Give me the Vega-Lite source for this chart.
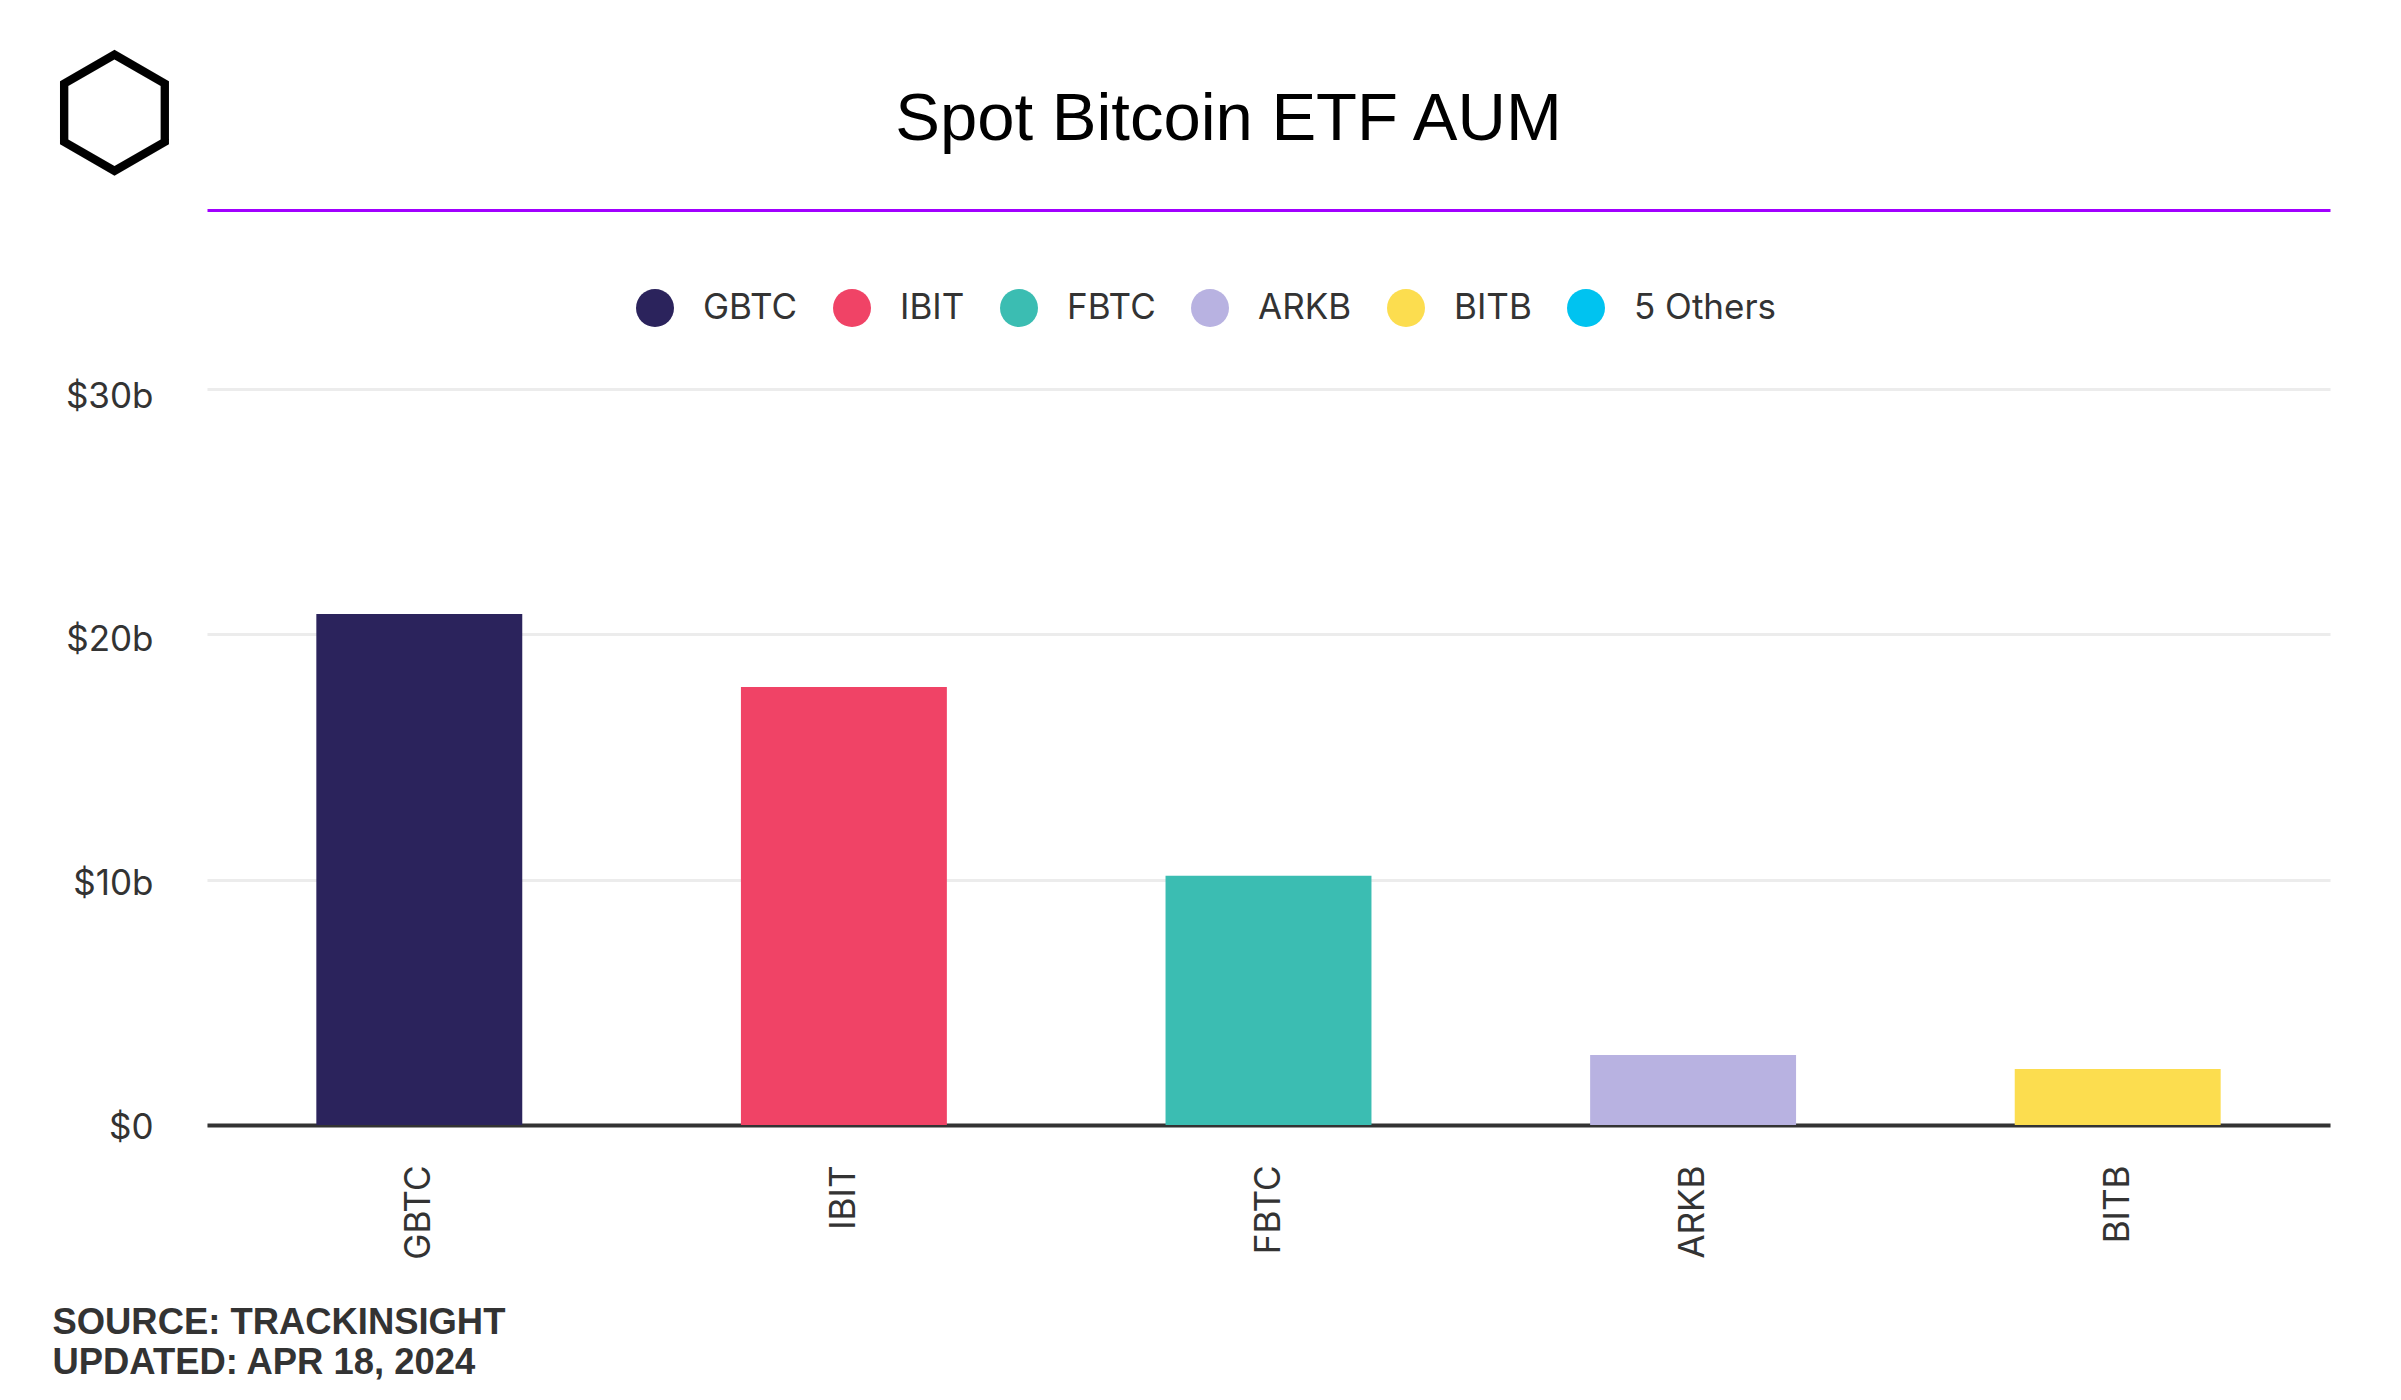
{
  "$schema": "https://vega.github.io/schema/vega-lite/v6.json",
  "width": 2123,
  "height": 736,
  "autosize": {"type": "none"},
  "padding": {"left": 207, "top": 389, "right": 71, "bottom": 275},
  "background": "white",
  "title": {
    "text": "Spot Bitcoin ETF AUM",
    "font": "Liberation Sans",
    "fontSize": 67,
    "fontWeight": "normal",
    "color": "#000000",
    "anchor": "middle",
    "frame": "group",
    "dx": -40,
    "dy": 167,
    "offset": 54
  },
  "data": {
    "values": [
      {"ticker": "GBTC", "aum": 20.83},
      {"ticker": "IBIT", "aum": 17.85},
      {"ticker": "FBTC", "aum": 10.16},
      {"ticker": "ARKB", "aum": 2.85},
      {"ticker": "BITB", "aum": 2.28}
    ]
  },
  "layer": [
    {
      "mark": {"type": "bar", "opacity": 0},
      "encoding": {
        "x": {
          "field": "ticker",
          "type": "nominal",
          "sort": null,
          "scale": {"paddingInner": 0.515, "paddingOuter": 0.2575},
          "axis": {
            "orient": "top",
            "offset": 179,
            "labels": false,
            "ticks": false,
            "grid": false,
            "title": null,
            "domainColor": "#a100ff",
            "domainWidth": 3
          }
        },
        "y": {"field": "aum", "type": "quantitative"}
      }
    },
    {
      "mark": {"type": "bar"},
      "encoding": {
        "x": {
          "field": "ticker",
          "type": "nominal",
          "sort": null,
          "axis": {
            "orient": "bottom",
            "labelAngle": -90,
            "labelAlign": "right",
            "labelBaseline": "middle",
            "labelPadding": 40,
            "labelFont": "Inter",
            "labelFontSize": 35,
            "labelColor": "#333333",
            "ticks": false,
            "domainColor": "#333333",
            "domainWidth": 4,
            "title": ["SOURCE: TRACKINSIGHT", "UPDATED: APR 18, 2024"],
            "titleFont": "Liberation Sans",
            "titleFontWeight": "bold",
            "titleFontSize": 36.4,
            "titleColor": "#333333",
            "titleAnchor": "start",
            "titleAlign": "left",
            "titleBaseline": "alphabetic",
            "titleLineHeight": 40,
            "titleX": -155,
            "titleY": 208
          }
        },
        "y": {
          "field": "aum",
          "type": "quantitative",
          "scale": {"domain": [0, 30], "nice": false},
          "axis": {
            "values": [0, 10, 20, 30],
            "labelExpr": "'$' + datum.value + (datum.value ? 'b' : '')",
            "labelFont": "Inter",
            "labelFontSize": 35,
            "labelColor": "#333333",
            "labelPadding": 54,
            "labelOffset": {"expr": "2 + datum.value * 0.17"},
            "labelBaseline": "middle",
            "ticks": false,
            "domain": false,
            "gridColor": "#ececec",
            "gridWidth": 3,
            "title": "⬡",
            "titleFont": "DejaVu Sans",
            "titleFontSize": 150,
            "titleFontWeight": "bold",
            "titleColor": "#000000",
            "titleAngle": 0,
            "titleAlign": "center",
            "titleBaseline": "middle",
            "titleX": -93,
            "titleY": -273
          }
        },
        "color": {
          "field": "ticker",
          "type": "nominal",
          "scale": {
            "domain": ["GBTC", "IBIT", "FBTC", "ARKB", "BITB", "5 Others"],
            "range": ["#2b235c", "#f04366", "#3bbdb2", "#b8b2e1", "#fcdd4f", "#00c3f0"]
          },
          "legend": {
            "orient": "none",
            "direction": "horizontal",
            "legendX": 429,
            "legendY": -100,
            "title": null,
            "symbolType": "circle",
            "symbolSize": 1444,
            "symbolStrokeWidth": 0,
            "symbolOpacity": 1,
            "labelFont": "Inter",
            "labelFontSize": 35,
            "labelColor": "#333333",
            "labelOffset": 29,
            "columnPadding": 35
          }
        }
      }
    }
  ],
  "resolve": {"axis": {"x": "independent"}},
  "config": {
    "view": {"stroke": null},
    "axis": {"gridColor": "#ececec"}
  }
}
